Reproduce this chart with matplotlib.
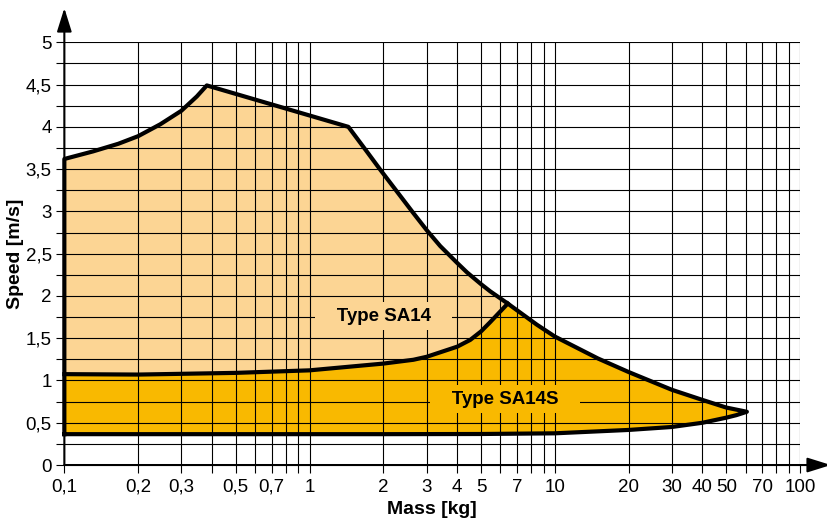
import matplotlib
matplotlib.use("Agg")
import matplotlib.pyplot as plt
from matplotlib.ticker import FixedLocator, NullFormatter

plt.rcParams['font.family'] = ['Liberation Sans', 'DejaVu Sans']

# ---------- data ----------
# upper boundary of Type SA14 (mass kg, speed m/s)
sa14_top_mass  = [0.1, 0.131, 0.166, 0.2, 0.246, 0.3, 0.347, 0.381,
                  1.44, 1.7, 1.94, 2.65, 3, 3.41, 4, 4.38, 5, 5.45, 6.43]
sa14_top_speed = [3.62, 3.71, 3.80, 3.89, 4.03, 4.19, 4.36, 4.49,
                  4.0, 3.72, 3.495, 2.98, 2.78, 2.59, 2.39, 2.28, 2.14, 2.055, 1.91]

# border between SA14 and SA14S
sa14s_top_mass  = [0.1, 0.2, 0.5, 1, 2, 2.65, 3, 4, 4.52, 5, 5.45, 6.43]
sa14s_top_speed = [1.075, 1.07, 1.09, 1.12, 1.20, 1.245, 1.28, 1.40, 1.48, 1.58, 1.69, 1.91]

# right falling edge of SA14S
sa14s_edge_mass  = [6.43, 8.45, 10, 15, 20, 30, 40, 50, 60.7]
sa14s_edge_speed = [1.91, 1.66, 1.52, 1.26, 1.10, 0.89, 0.77, 0.68, 0.63]

# lower boundary of SA14S
sa14s_low_mass  = [0.1, 2, 5, 10, 20, 30, 40, 50, 55, 60.7]
sa14s_low_speed = [0.365, 0.365, 0.367, 0.375, 0.415, 0.45, 0.50, 0.56, 0.59, 0.63]

x_major = [0.1, 0.2, 0.3, 0.5, 0.7, 1, 2, 3, 4, 5, 7, 10, 20, 30, 40, 50, 70, 100]
x_major_labels = ["0,1", "0,2", "0,3", "0,5", "0,7", "1", "2", "3", "4", "5", "7",
                  "10", "20", "30", "40", "50", "70", "100"]
x_minor = [0.4, 0.6, 0.8, 0.9, 6, 8, 9, 60, 80, 90]
y_major = [0, 0.5, 1, 1.5, 2, 2.5, 3, 3.5, 4, 4.5, 5]
y_major_labels = ["0", "0,5", "1", "1,5", "2", "2,5", "3", "3,5", "4", "4,5", "5"]
y_minor = [0.25, 0.75, 1.25, 1.75, 2.25, 2.75, 3.25, 3.75, 4.25, 4.75]

LIGHT = "#fcd594"
DARK = "#f9b900"

fig = plt.figure(figsize=(8.27, 5.27), dpi=100)
ax = fig.add_axes([0.0778, 0.1176, 0.8896, 0.8021])
ax.set_xscale("log")
ax.set_xlim(0.1, 100)
ax.set_ylim(0, 5)

# ---------- filled regions ----------
sa14_x = sa14_top_mass + sa14s_top_mass[::-1]
sa14_y = sa14_top_speed + sa14s_top_speed[::-1]
ax.fill(sa14_x, sa14_y, color=LIGHT, lw=0, zorder=1)

sa14s_x = sa14s_top_mass + sa14s_edge_mass[1:] + sa14s_low_mass[::-1]
sa14s_y = sa14s_top_speed + sa14s_edge_speed[1:] + sa14s_low_speed[::-1]
ax.fill(sa14s_x, sa14s_y, color=DARK, lw=0, zorder=1)

# ---------- grid ----------
ax.xaxis.set_major_locator(FixedLocator(x_major))
ax.xaxis.set_minor_locator(FixedLocator(x_minor))
ax.xaxis.set_minor_formatter(NullFormatter())
ax.set_xticklabels(x_major_labels)
ax.yaxis.set_major_locator(FixedLocator(y_major))
ax.yaxis.set_minor_locator(FixedLocator(y_minor))
ax.set_yticklabels(y_major_labels)
ax.set_axisbelow(False)
ax.grid(True, which="both", color="black", lw=0.8)
ax.tick_params(which="both", direction="out", length=6, width=0.8, color="black",
               labelsize=13.5)
ax.tick_params(axis="x", which="both", pad=4)
ax.tick_params(axis="y", which="both", pad=3)
for s in ax.spines.values():
    s.set_visible(False)

# ---------- outlines ----------
kw = dict(color="black", lw=3, zorder=3, solid_joinstyle="round", clip_on=False)
outline_x = [0.1] + sa14_top_mass + sa14s_edge_mass[1:] + sa14s_low_mass[::-1]
outline_y = [sa14s_low_speed[0]] + sa14_top_speed + sa14s_edge_speed[1:] + sa14s_low_speed[::-1]
ax.plot(outline_x, outline_y, **kw)
ax.plot(sa14s_top_mass, sa14s_top_speed, **kw)

# ---------- labels ----------
ax.text(2.0, 1.76, "   Type SA14   ", fontsize=13.5, fontweight="bold",
        ha="center", va="center", zorder=4,
        bbox=dict(facecolor=LIGHT, edgecolor="none", boxstyle="square,pad=0.3"))
ax.text(6.27, 0.78, "   Type SA14S   ", fontsize=13.5, fontweight="bold",
        ha="center", va="center", zorder=4,
        bbox=dict(facecolor=DARK, edgecolor="none", boxstyle="square,pad=0.3"))

ax.set_xlabel("Mass [kg]", fontsize=14, fontweight="bold", labelpad=4)
ax.set_ylabel("Speed [m/s]", fontsize=14, fontweight="bold", labelpad=1)

# ---------- axis arrows ----------
arrow = dict(arrowstyle="-|>,head_length=0.8,head_width=0.25", lw=1.5,
             color="black", mutation_scale=18, shrinkA=0, shrinkB=0)
ax.annotate("", xy=(1.042, 0), xytext=(0, 0), xycoords="axes fraction",
            arrowprops=arrow, annotation_clip=False)
ax.annotate("", xy=(0, 1.081), xytext=(0, 0), xycoords="axes fraction",
            arrowprops=arrow, annotation_clip=False)

fig.savefig("out.png", dpi=100)
